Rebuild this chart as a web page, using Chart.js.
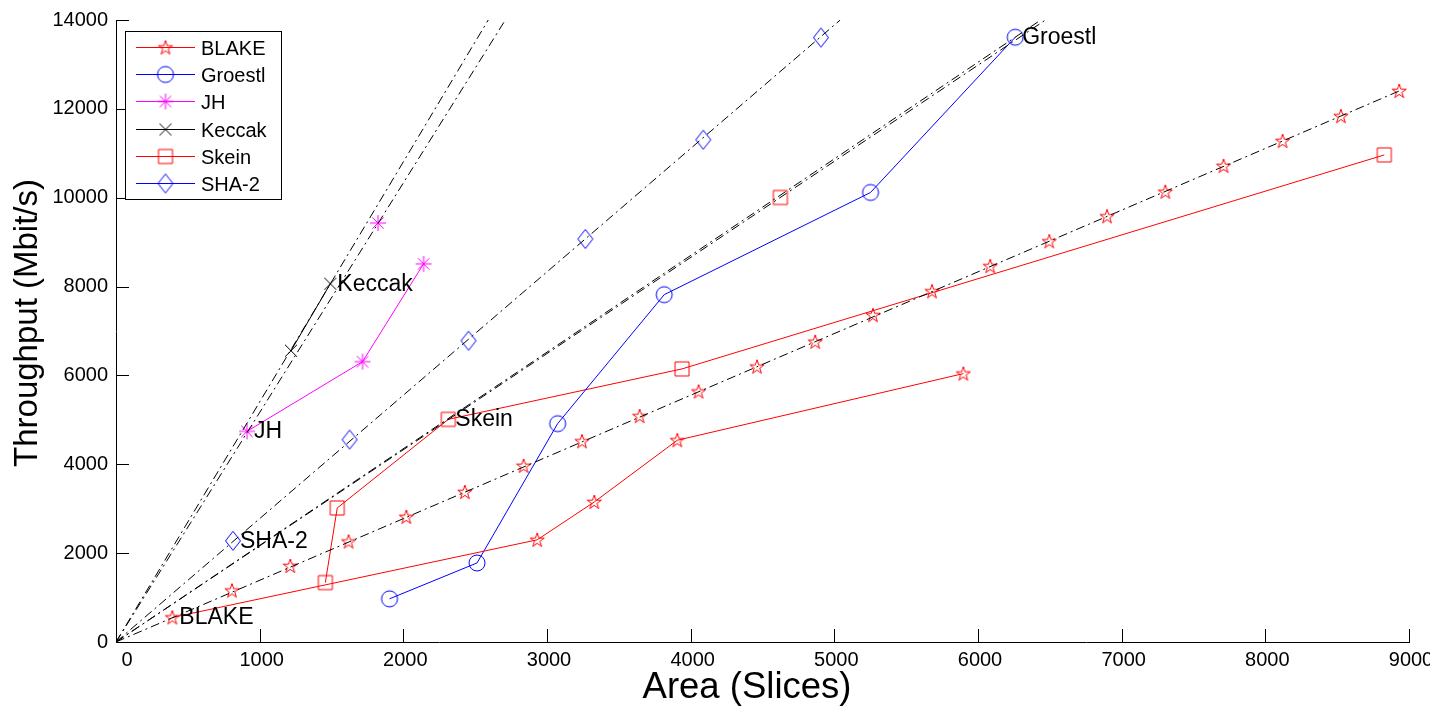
<!DOCTYPE html>
<html><head><meta charset="utf-8">
<script src="https://cdn.jsdelivr.net/npm/chart.js@4.4.0/dist/chart.umd.min.js"></script>
<style>html,body{margin:0;padding:0;background:#fff;overflow:hidden}#wrap{width:1449px;height:713px}</style>
</head><body><div id="wrap"><canvas id="c" width="1449" height="713"></canvas></div>
<script>
// ---------- data ----------
const blakeArea = [392, 2932, 3329, 3907, 5898];
const blakeTp   = [553, 2300, 3152, 4541, 6041];
const blakeScaledArea = [807,1213,1619,2021,2428,2837,3244,3645,4055,4462,4867,5269,5680,6085,6496,6898,7304,7709,8120,8526,8932];
const blakeScaledTp   = [1158,1711,2262,2816,3376,3965,4518,5085,5638,6198,6758,7356,7894,8460,9020,9580,10134,10716,11276,11836,12403];
const groestlArea = [1904, 2513, 3074, 3816, 5252, 6259];
const groestlTp   = [972, 1779, 4915, 7818, 10118, 13612];
const jhArea = [912, 1716, 2141];
const jhTp   = [4742, 6310, 8512];
const jhExtraArea = [1824];
const jhExtraTp   = [9430];
const keccakArea = [1218, 1492];
const keccakTp   = [6556, 8064];
const skeinArea = [1457, 1540, 2313, 3940, 8828];
const skeinTp   = [1337, 3017, 5011, 6147, 10963];
const skeinExtraArea = [4624];
const skeinExtraTp   = [10006];
const sha2Area = [814, 1626, 2454, 3267, 4088, 4907];
const sha2Tp   = [2278, 4556, 6781, 9072, 11305, 13606];
// dash-dot reference lines through the origin: [x0,y0,x1,y1]
const refBlake   = [0, 0, 8932, 12403];
const refSha2    = [0, 0, 5041, 14000];
const refSkein   = [0, 0, 6470, 14000];
const refGroestl = [0, 0, 6437, 14000];
const refJH      = [0, 0, 2710, 14000];
const refKeccak  = [0, 0, 2591, 14000];
const xTicks = [0, 1000, 2000, 3000, 4000, 5000, 6000, 7000, 8000, 9000];
const yTicks = [0, 2000, 4000, 6000, 8000, 10000, 12000, 14000];
const seriesNames = ['BLAKE', 'Groestl', 'JH', 'Keccak', 'Skein', 'SHA-2'];
// text annotations: [series, point index, text]
const annotations = [['BLAKE',0,'BLAKE'],['SHA-2',0,'SHA-2'],['JH',0,'JH'],['Keccak',1,'Keccak'],['Skein',2,'Skein'],['Groestl',5,'Groestl']];
const xTitle = 'Area (Slices)';
const yTitle = 'Throughput (Mbit/s)';

// ---------- styling ----------
const FONT = "'Liberation Sans', Arial, sans-serif";
const RED = 'rgb(255,0,0)', BLUE = 'rgb(0,0,255)', MAG = 'rgb(255,0,255)', BLK = 'rgb(0,0,0)';

function marker(type, color) {
  const s = 24, c = document.createElement('canvas');
  c.width = s; c.height = s;
  const g = c.getContext('2d'); const m = s / 2;
  g.strokeStyle = color; g.lineWidth = 1; g.beginPath();
  if (type === 'pentagram') {
    const R = 7.5, r = R * 0.382;
    for (let i = 0; i < 10; i++) {
      const a = -Math.PI / 2 + i * Math.PI / 5, rr = i % 2 ? r : R;
      const x = m + rr * Math.cos(a), y = m + 0.5 + rr * Math.sin(a);
      if (i) g.lineTo(x, y); else g.moveTo(x, y);
    }
    g.closePath();
  } else if (type === 'circle') {
    g.arc(m, m, 8, 0, Math.PI * 2);
  } else if (type === 'asterisk') {
    g.moveTo(m - 8, m); g.lineTo(m + 8, m); g.moveTo(m, m - 8); g.lineTo(m, m + 8);
    g.moveTo(m - 5.7, m - 5.7); g.lineTo(m + 5.7, m + 5.7); g.moveTo(m - 5.7, m + 5.7); g.lineTo(m + 5.7, m - 5.7);
  } else if (type === 'x') {
    g.moveTo(m - 6, m - 6); g.lineTo(m + 6, m + 6); g.moveTo(m - 6, m + 6); g.lineTo(m + 6, m - 6);
  } else if (type === 'square') {
    g.rect(m - 7, m - 7, 14, 14);
  } else if (type === 'diamond') {
    g.moveTo(m, m - 9.5); g.lineTo(m + 7.5, m); g.lineTo(m, m + 9.5); g.lineTo(m - 7.5, m); g.closePath();
  }
  g.stroke();
  return c;
}
const pts = (xs, ys) => xs.map((x, i) => ({x, y: ys[i]}));
const seg = a => [{x: a[0], y: a[1]}, {x: a[2], y: a[3]}];

function series(label, xs, ys, color, mk, showLine, inLegend) {
  return { label, data: pts(xs, ys), showLine, borderColor: color, borderWidth: 1,
    backgroundColor: 'transparent', pointStyle: marker(mk, color), pointRadius: 8,
    inLegend, order: 1, clip: false };
}
function refLine(label, a) {
  return { label, data: seg(a), showLine: true, borderColor: BLK, borderWidth: 1,
    borderDash: [9, 4, 2, 4], pointRadius: 0, inLegend: false, order: 0 };
}

const datasets = [
  series('BLAKE', blakeArea, blakeTp, RED, 'pentagram', true, true),
  series('Groestl', groestlArea, groestlTp, BLUE, 'circle', true, true),
  series('JH', jhArea, jhTp, MAG, 'asterisk', true, true),
  series('Keccak', keccakArea, keccakTp, BLK, 'x', true, true),
  series('Skein', skeinArea, skeinTp, RED, 'square', true, true),
  series('SHA-2', sha2Area, sha2Tp, BLUE, 'diamond', false, true),
  series('BLAKE scaled', blakeScaledArea, blakeScaledTp, RED, 'pentagram', false, false),
  series('JH extra', jhExtraArea, jhExtraTp, MAG, 'asterisk', false, false),
  series('Skein extra', skeinExtraArea, skeinExtraTp, RED, 'square', false, false),
  refLine('BLAKE ref', refBlake),
  refLine('SHA-2 ref', refSha2),
  refLine('Skein ref', refSkein),
  refLine('Groestl ref', refGroestl),
  refLine('JH ref', refJH),
  refLine('Keccak ref', refKeccak)
];

const decor = {
  id: 'decor',
  afterDraw(chart) {
    const {ctx, chartArea: ca, scales: {x, y}} = chart;
    ctx.save();
    // inward tick marks
    ctx.strokeStyle = '#000'; ctx.lineWidth = 1;
    ctx.beginPath();
    xTicks.forEach(v => { if (v === 0) return; const px = Math.round(x.getPixelForValue(v)) + 0.5;
      ctx.moveTo(px, ca.bottom); ctx.lineTo(px, ca.bottom - 13); });
    yTicks.forEach(v => { if (v === 0) return; const py = Math.round(y.getPixelForValue(v)) + 0.5;
      ctx.moveTo(ca.left, py); ctx.lineTo(ca.left + 13, py); });
    ctx.stroke();
    // x "0" label (offset as in the reference)
    ctx.fillStyle = '#000'; ctx.font = '20px ' + FONT; ctx.textAlign = 'center'; ctx.textBaseline = 'alphabetic';
    ctx.fillText('0', x.getPixelForValue(0) + 11, ca.bottom + 24);
    // axis titles
    ctx.textBaseline = 'middle';
    ctx.font = '36.5px ' + FONT;
    ctx.fillText(xTitle, 747, 688);
    ctx.save();
    ctx.translate(28, 323); ctx.rotate(-Math.PI / 2);
    ctx.font = '33px ' + FONT;
    ctx.fillText(yTitle, 0, 0);
    ctx.restore();
    // annotations
    ctx.textBaseline = 'alphabetic';
    ctx.font = '23px ' + FONT; ctx.textAlign = 'left';
    annotations.forEach(([name, idx, text]) => {
      const di = chart.data.datasets.findIndex(d => d.label === name);
      const el = chart.getDatasetMeta(di).data[idx];
      ctx.fillText(text, el.x + 7, el.y + 7);
    });
    // legend
    const lx = ca.left + 9, ly = ca.top + 11, lw = 156, lh = 168;
    ctx.fillStyle = '#fff'; ctx.fillRect(lx, ly, lw, lh);
    ctx.strokeStyle = '#000'; ctx.strokeRect(lx + 0.5, ly + 0.5, lw, lh);
    ctx.font = '20px ' + FONT;
    seriesNames.forEach((name, i) => {
      const d = chart.data.datasets.find(ds => ds.label === name);
      const cy = Math.round(ly + 16 + 27.2 * i) + 0.5;
      ctx.strokeStyle = d.borderColor; ctx.lineWidth = 1;
      ctx.beginPath(); ctx.moveTo(lx + 11, cy); ctx.lineTo(lx + 70, cy); ctx.stroke();
      ctx.drawImage(d.pointStyle, lx + 40.5 - 12, cy - 12);
      ctx.fillStyle = '#000';
      ctx.fillText(name, lx + 76, cy + 7);
    });
    // the reference image is cut off on the right
    ctx.fillStyle = '#fff'; ctx.fillRect(1430, ca.bottom + 3, 25, 40);
    ctx.restore();
  }
};

new Chart(document.getElementById('c'), {
  type: 'scatter',
  data: { datasets },
  options: {
    responsive: false, animation: false, devicePixelRatio: 1, events: [],
    layout: { padding: { left: 0, top: 17, right: 40, bottom: 0 } },
    plugins: { legend: { display: false }, tooltip: { enabled: false } },
    scales: {
      x: {
        type: 'linear', min: 0, max: 9000,
        afterBuildTicks: s => { s.ticks = xTicks.map(v => ({value: v})); },
        ticks: { color: '#000', font: { family: FONT, size: 20 }, padding: 6, maxRotation: 0, labelOffset: 2,
          callback: v => v === 0 ? '' : String(v) },
        grid: { display: false, drawTicks: false },
        border: { display: true, color: '#000', width: 1 },
        title: { display: false },
        afterFit: s => { s.height = 71; }
      },
      y: {
        type: 'linear', min: 0, max: 14000,
        afterBuildTicks: s => { s.ticks = yTicks.map(v => ({value: v})); },
        ticks: { color: '#000', font: { family: FONT, size: 20 }, padding: 8,
          callback: v => String(v) },
        grid: { display: false, drawTicks: false },
        border: { display: true, color: '#000', width: 1 },
        title: { display: false },
        afterFit: s => { s.width = 116; }
      }
    }
  },
  plugins: [decor]
});
</script></body></html>
